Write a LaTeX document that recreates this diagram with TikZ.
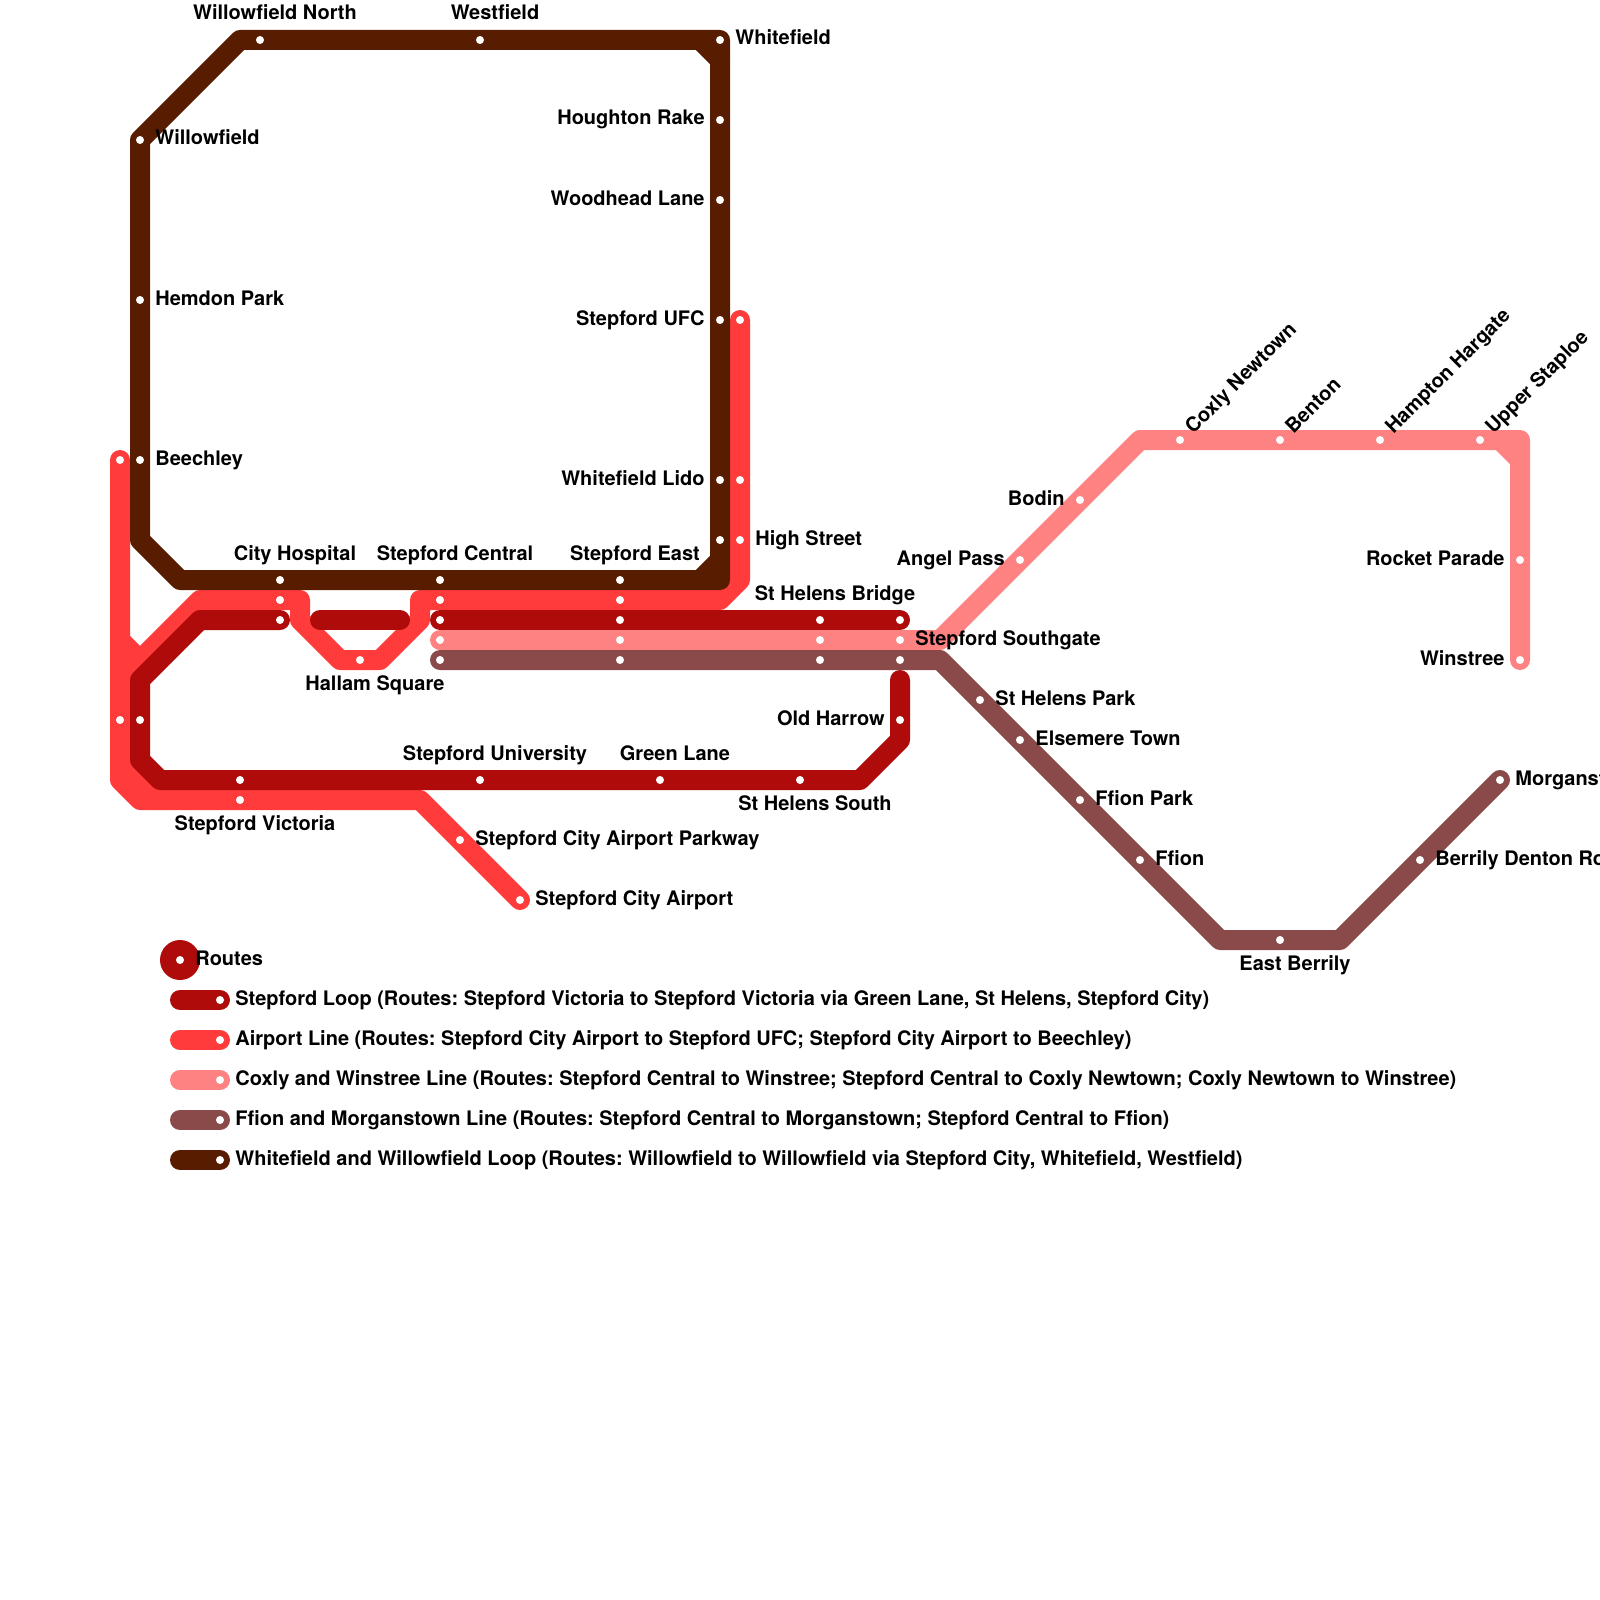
\documentclass[tikz,border=0pt]{standalone}
\usepackage{fontspec}
\setmainfont{TeX Gyre Heros}
\frenchspacing
\definecolor{loopc}{HTML}{AF0B0B}
\definecolor{airc}{HTML}{FF3B3B}
\definecolor{coxc}{HTML}{FF8282}
\definecolor{ffic}{HTML}{8A4A4A}
\definecolor{whic}{HTML}{581D00}
\tikzset{
  x=0.5pt,y=-0.5pt,
  route/.style={line width=10pt,line cap=round,line join=round},
  rloop/.style={route,draw=loopc},
  rair/.style={route,draw=airc},
  rcox/.style={route,draw=coxc},
  rffi/.style={route,draw=ffic},
  rwhi/.style={route,draw=whic},
  dot/.style={circle,fill=white,inner sep=0pt,minimum size=4pt},
  lab/.style={font=\bfseries\fontsize{10}{12}\selectfont,text=black,inner sep=0pt},
  lr/.style={lab,anchor=base west,xshift=7.5pt,yshift=-2.5pt},
  ll/.style={lab,anchor=base east,xshift=-7.5pt,yshift=-2.5pt},
  lt/.style={lab,anchor=base,xshift=7.5pt,yshift=10pt},
  lb/.style={lab,anchor=base,xshift=7.5pt,yshift=-15pt},
  ld/.style={lab,anchor=base west,xshift=6.6pt,yshift=2.6pt,rotate=45},
  lg/.style={lab,anchor=base west,xshift=7.5pt,yshift=-2.5pt},
}
\begin{document}
\begin{tikzpicture}
\useasboundingbox (0,0) rectangle (1600,1600);
\clip (0,0) rectangle (1600,1600);
% Airport line vertices
\coordinate (a1) at (520,900);
\coordinate (a2) at (420,800);
\coordinate (a3) at (140,800);
\coordinate (a4) at (120,780);
\coordinate (a5) at (120,640);
\coordinate (a6) at (120,460);
\coordinate (a7) at (140,660);
\coordinate (a8) at (200,600);
\coordinate (a9) at (300,600);
\coordinate (a10) at (300,620);
\coordinate (a11) at (340,660);
\coordinate (a12) at (380,660);
\coordinate (a13) at (420,620);
\coordinate (a14) at (420,600);
\coordinate (a15) at (720,600);
\coordinate (a16) at (740,580);
\coordinate (a17) at (740,320);
\coordinate (a18) at (120,760);
\coordinate (a19) at (160,800);
\coordinate (a20) at (120,660);
\coordinate (a21) at (130,670);
% Stepford Loop vertices
\coordinate (l1) at (280,620);
\coordinate (l2) at (200,620);
\coordinate (l3) at (140,680);
\coordinate (l4) at (140,760);
\coordinate (l5) at (160,780);
\coordinate (l6) at (860,780);
\coordinate (l7) at (900,740);
\coordinate (l8) at (900,680);
\coordinate (l9) at (320,620);
\coordinate (l10) at (400,620);
\coordinate (l11) at (440,620);
\coordinate (l12) at (900,620);
% Coxly vertices
\coordinate (c1) at (440,640);
\coordinate (c2) at (940,640);
\coordinate (c3) at (1140,440);
\coordinate (c4) at (1520,440);
\coordinate (c5) at (1520,660);
\coordinate (c6) at (1500,440);
\coordinate (c7) at (1520,460);
% Ffion vertices
\coordinate (f1) at (440,660);
\coordinate (f2) at (940,660);
\coordinate (f3) at (1220,940);
\coordinate (f4) at (1340,940);
\coordinate (f5) at (1500,780);
% Whitefield vertices
\coordinate (w1) at (140,140);
\coordinate (w2) at (240,40);
\coordinate (w3) at (720,40);
\coordinate (w4) at (720,580);
\coordinate (w5) at (180,580);
\coordinate (w6) at (140,540);
\coordinate (w7) at (700,40);
\coordinate (w8) at (720,60);
\coordinate (w9) at (700,580);
\coordinate (w10) at (720,560);
% routes
\draw[rair] (a1) -- (a2) -- (a3) -- (a4) -- (a5) -- (a6);
\draw[rair] (a5) -- (a7) -- (a8) -- (a9) -- (a10) -- (a11) -- (a12) -- (a13) -- (a14) -- (a15) -- (a16) -- (a17);
\draw[rair] (a18) -- (a19);
\draw[rair] (a20) -- (a21);
\draw[rloop] (l1) -- (l2) -- (l3) -- (l4) -- (l5) -- (l6) -- (l7) -- (l8);
\draw[rloop] (l9) -- (l10);
\draw[rloop] (l11) -- (l12);
\draw[rcox] (c1) -- (c2) -- (c3) -- (c4) -- (c5);
\draw[rcox] (c6) -- (c7);
\draw[rffi] (f1) -- (f2) -- (f3) -- (f4) -- (f5);
\draw[rwhi] (w1) -- (w2) -- (w3) -- (w4) -- (w5) -- (w6) -- cycle;
\draw[rwhi] (w7) -- (w8);
\draw[rwhi] (w9) -- (w10);
% stations with labels
\node[dot] (s1) at (260,40) {}; \node[lt] (t1) at (260,40) {Willowfield North};
\node[dot] (s2) at (480,40) {}; \node[lt] (t2) at (480,40) {Westfield};
\node[dot] (s3) at (720,40) {}; \node[lr] (t3) at (720,40) {Whitefield};
\node[dot] (s4) at (720,120) {}; \node[ll] (t4) at (720,120) {Houghton Rake};
\node[dot] (s5) at (720,200) {}; \node[ll] (t5) at (720,200) {Woodhead Lane};
\node[dot] (s6) at (720,320) {}; \node[ll] (t6) at (720,320) {Stepford UFC};
\node[dot] (s7) at (720,480) {}; \node[ll] (t7) at (720,480) {Whitefield Lido};
\node[dot] (s8) at (720,540) {};
\node[dot] (s9) at (740,320) {};
\node[dot] (s10) at (740,480) {};
\node[dot] (s11) at (740,540) {}; \node[lr] (t11) at (740,540) {High Street};
\node[dot] (s12) at (140,140) {}; \node[lr] (t12) at (140,140) {Willowfield};
\node[dot] (s13) at (140,300) {}; \node[lr] (t13) at (140,300) {Hemdon Park};
\node[dot] (s14) at (140,460) {}; \node[lr] (t14) at (140,460) {Beechley};
\node[dot] (s15) at (120,460) {};
\node[dot] (s16) at (120,720) {};
\node[dot] (s17) at (140,720) {};
\node[dot] (s18) at (280,580) {}; \node[lt] (t18) at (280,580) {City Hospital};
\node[dot] (s19) at (280,600) {};
\node[dot] (s20) at (280,620) {};
\node[dot] (s21) at (440,580) {}; \node[lt] (t21) at (440,580) {Stepford Central};
\node[dot] (s22) at (440,600) {};
\node[dot] (s23) at (440,620) {};
\node[dot] (s24) at (440,640) {};
\node[dot] (s25) at (440,660) {};
\node[dot] (s26) at (620,580) {}; \node[lt] (t26) at (620,580) {Stepford East};
\node[dot] (s27) at (620,600) {};
\node[dot] (s28) at (620,620) {};
\node[dot] (s29) at (620,640) {};
\node[dot] (s30) at (620,660) {};
\node[dot] (s31) at (360,660) {}; \node[lb] (t31) at (360,660) {Hallam Square};
\node[dot] (s32) at (820,620) {}; \node[lt] (t32) at (820,620) {St Helens Bridge};
\node[dot] (s33) at (820,640) {};
\node[dot] (s34) at (820,660) {};
\node[dot] (s35) at (900,620) {};
\node[dot] (s36) at (900,640) {}; \node[lr] (t36) at (900,640) {Stepford Southgate};
\node[dot] (s37) at (900,660) {};
\node[dot] (s38) at (900,720) {}; \node[ll] (t38) at (900,720) {Old Harrow};
\node[dot] (s39) at (240,780) {};
\node[dot] (s40) at (240,800) {}; \node[lb] (t40) at (240,800) {Stepford Victoria};
\node[dot] (s41) at (480,780) {}; \node[lt] (t41) at (480,780) {Stepford University};
\node[dot] (s42) at (660,780) {}; \node[lt] (t42) at (660,780) {Green Lane};
\node[dot] (s43) at (800,780) {}; \node[lb] (t43) at (800,780) {St Helens South};
\node[dot] (s44) at (460,840) {}; \node[lr] (t44) at (460,840) {Stepford City Airport Parkway};
\node[dot] (s45) at (520,900) {}; \node[lr] (t45) at (520,900) {Stepford City Airport};
\node[dot] (s46) at (1020,560) {}; \node[ll] (t46) at (1020,560) {Angel Pass};
\node[dot] (s47) at (1080,500) {}; \node[ll] (t47) at (1080,500) {Bodin};
\node[dot] (s48) at (1180,440) {}; \node[ld] (t48) at (1180,440) {Coxly Newtown};
\node[dot] (s49) at (1280,440) {}; \node[ld] (t49) at (1280,440) {Benton};
\node[dot] (s50) at (1380,440) {}; \node[ld] (t50) at (1380,440) {Hampton Hargate};
\node[dot] (s51) at (1480,440) {}; \node[ld] (t51) at (1480,440) {Upper Staploe};
\node[dot] (s52) at (1520,560) {}; \node[ll] (t52) at (1520,560) {Rocket Parade};
\node[dot] (s53) at (1520,660) {}; \node[ll] (t53) at (1520,660) {Winstree};
\node[dot] (s54) at (980,700) {}; \node[lr] (t54) at (980,700) {St Helens Park};
\node[dot] (s55) at (1020,740) {}; \node[lr] (t55) at (1020,740) {Elsemere Town};
\node[dot] (s56) at (1080,800) {}; \node[lr] (t56) at (1080,800) {Ffion Park};
\node[dot] (s57) at (1140,860) {}; \node[lr] (t57) at (1140,860) {Ffion};
\node[dot] (s58) at (1280,940) {}; \node[lb] (t58) at (1280,940) {East Berrily};
\node[dot] (s59) at (1420,860) {}; \node[lr] (t59) at (1420,860) {Berrily Denton Road};
\node[dot] (s60) at (1500,780) {}; \node[lr] (t60) at (1500,780) {Morganstown};
% legend
\fill[loopc] (180,960) circle (10pt);
\node[dot] (k0) at (180,960) {}; \node[lg] (k0t) at (180,960) {Routes};
\coordinate (k1a) at (180,1000); \coordinate (k1b) at (220,1000);
\coordinate (k2a) at (180,1040); \coordinate (k2b) at (220,1040);
\coordinate (k3a) at (180,1080); \coordinate (k3b) at (220,1080);
\coordinate (k4a) at (180,1120); \coordinate (k4b) at (220,1120);
\coordinate (k5a) at (180,1160); \coordinate (k5b) at (220,1160);
\draw[rloop] (k1a) -- (k1b); \node[dot] at (k1b) {}; \node[lg] at (k1b) {Stepford Loop (Routes: Stepford Victoria to Stepford Victoria via Green Lane, St Helens, Stepford City)};
\draw[rair] (k2a) -- (k2b); \node[dot] at (k2b) {}; \node[lg] at (k2b) {Airport Line (Routes: Stepford City Airport to Stepford UFC; Stepford City Airport to Beechley)};
\draw[rcox] (k3a) -- (k3b); \node[dot] at (k3b) {}; \node[lg] at (k3b) {Coxly and Winstree Line (Routes: Stepford Central to Winstree; Stepford Central to Coxly Newtown; Coxly Newtown to Winstree)};
\draw[rffi] (k4a) -- (k4b); \node[dot] at (k4b) {}; \node[lg] at (k4b) {Ffion and Morganstown Line (Routes: Stepford Central to Morganstown; Stepford Central to Ffion)};
\draw[rwhi] (k5a) -- (k5b); \node[dot] at (k5b) {}; \node[lg] at (k5b) {Whitefield and Willowfield Loop (Routes: Willowfield to Willowfield via Stepford City, Whitefield, Westfield)};
\end{tikzpicture}
\end{document}
